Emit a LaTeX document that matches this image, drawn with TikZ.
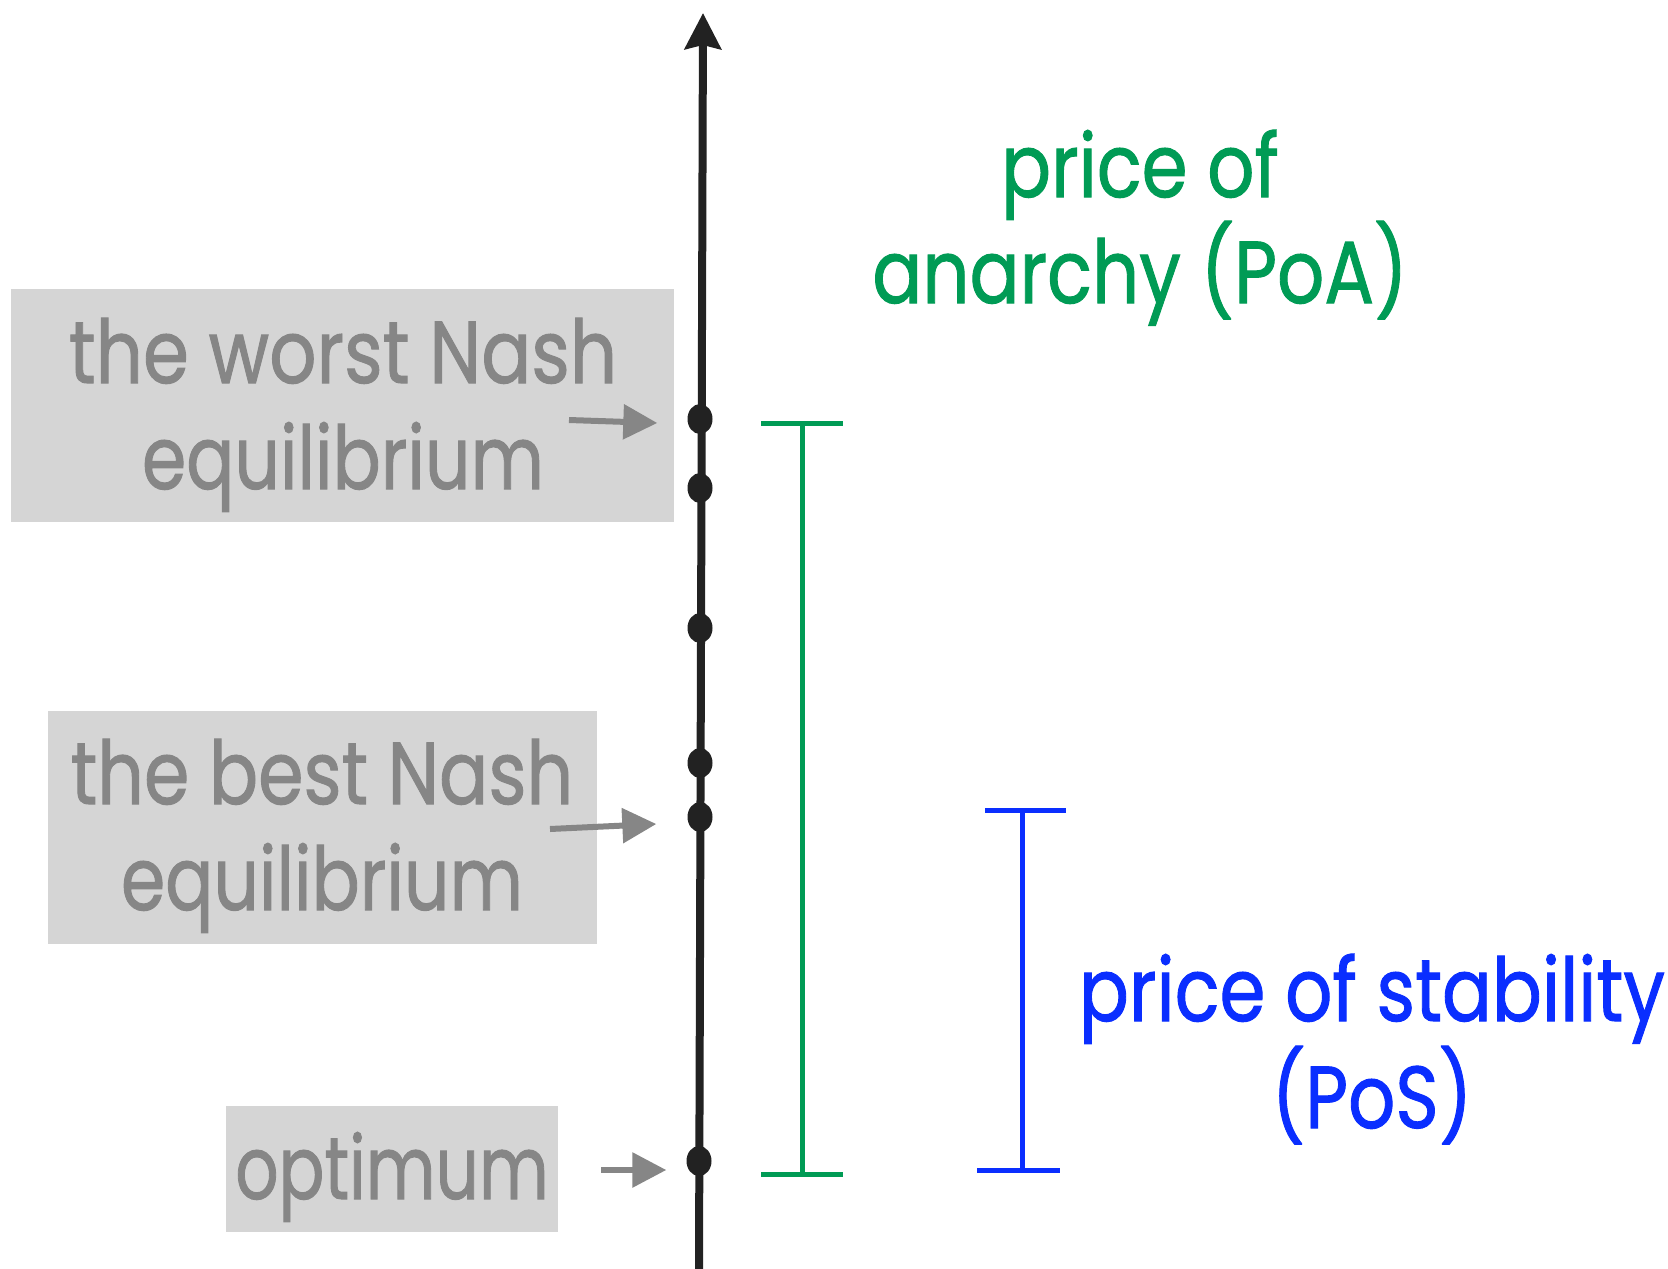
\documentclass[tikz,border=0pt]{standalone}
\usepackage{graphicx}
\usepackage{fontspec}
\setmainfont{Poppins}[FakeBold=1.2]
\usetikzlibrary{arrows.meta,shapes.geometric,calc}
\definecolor{axisc}{HTML}{222222}
\definecolor{boxc}{HTML}{D5D5D5}
\definecolor{txtgray}{HTML}{868686}
\definecolor{poagreen}{HTML}{009B55}
\definecolor{posblue}{HTML}{0A2EFF}
\newcommand\sq[2][0.84]{\scalebox{#1}[1]{#2}}
\tikzset{
  graybox/.style={fill=boxc, inner sep=0pt, anchor=north west},
  bigtext/.style={font=\fontsize{88}{106}\selectfont, align=center, inner sep=0pt, anchor=base},
  graytext/.style={bigtext, text=txtgray},
  dotnode/.style={ellipse, fill=axisc, inner sep=0pt, minimum width=25pt, minimum height=30pt},
  grayarrow/.style={draw=txtgray, line width=6pt, -{Triangle[length=34pt,width=34pt]}},
  poaline/.style={draw=poagreen, line width=5pt},
  posline/.style={draw=posblue, line width=5pt},
}
\begin{document}
\begin{tikzpicture}[x=1pt,y=-1pt]
\useasboundingbox[fill=white] (0,0) rectangle (1668,1269);
% boxes
\node[graybox, minimum width=663pt, minimum height=233pt] (b1) at (11,289) {};
\node[graybox, minimum width=549pt, minimum height=233pt] (b2) at (48,711) {};
\node[graybox, minimum width=332pt, minimum height=126pt] (b3) at (226,1106) {};
\node[graytext] (t1) at (343,489) {\sq{the worst Nash}\\\sq[0.81]{equilibrium}};
\node[graytext] (t2) at (322,910) {\sq[0.83]{the best Nash}\\\sq[0.81]{equilibrium}};
\node[graytext] (t3) at (392,1199) {\sq[0.77]{optimum}};
% axis
\coordinate (axb) at (699,1269);
\coordinate (axt) at (703,13);
\draw[axisc, line width=8pt, -{Stealth[length=36pt,width=36pt,inset=4pt]}] (axb) -- (axt);
% dots
\node[dotnode] (d1) at (700,419) {};
\node[dotnode] (d2) at (700,488) {};
\node[dotnode] (d3) at (700,628) {};
\node[dotnode] (d4) at (700,763) {};
\node[dotnode] (d5) at (700,817) {};
\node[dotnode] (d6) at (699,1161) {};
% gray arrows
\coordinate (a1) at (569,420);
\coordinate (a2) at (550,829);
\coordinate (a3) at (601,1170);
\draw[grayarrow] (a1) -- ($(d1.west)+(-30,4)$);
\draw[grayarrow] (a2) -- ($(d5.west)+(-31,7)$);
\draw[grayarrow] (a3) -- ($(d6.west)+(-20,9)$);
% PoA bracket
\coordinate (gt) at (802,423);
\coordinate (gb) at (802,1174);
\draw[poaline] (gt) -- (gb);
\draw[poaline] ($(gt)+(-41,0)$) -- ($(gt)+(41,0)$);
\draw[poaline] ($(gb)+(-41,0)$) -- ($(gb)+(41,0)$);
% PoS bracket
\coordinate (bt) at (1022,810);
\coordinate (bb) at (1022,1170);
\draw[posline] (bt) -- (bb);
\draw[posline] ($(bt)+(-37,0)$) -- ($(bt)+(44,0)$);
\draw[posline] ($(bb)+(-45,0)$) -- ($(bb)+(38,0)$);
% labels
\node[bigtext, text=poagreen] (poa) at (1140,303) {\sq{price of}\\\sq{anarchy (PoA)}};
\node[bigtext, text=posblue, font=\fontsize{88}{107}\selectfont] (pos) at (1372,1128) {\sq{price of stability}\\\sq{(PoS)}};
\end{tikzpicture}
\end{document}
